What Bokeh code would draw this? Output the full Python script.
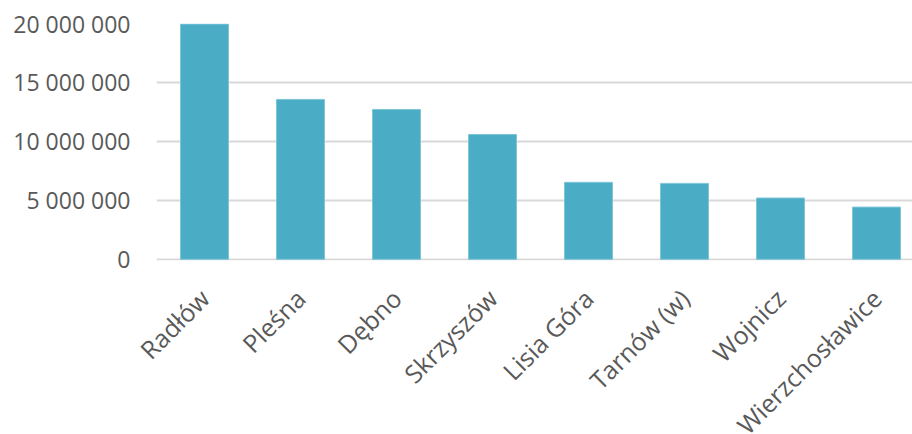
import math
from bokeh.plotting import figure
from bokeh.models import Range1d, FixedTicker, CustomJSTickFormatter
from bokeh.embed import file_html
from bokeh.resources import INLINE

categories = ["Radłów", "Pleśna", "Dębno", "Skrzyszów", "Lisia Góra", "Tarnów (w)", "Wojnicz", "Wierzchosławice"]
values = [19950000, 13560000, 12710000, 10590000, 6530000, 6440000, 5200000, 4430000]
y_ticks = [0, 5000000, 10000000, 15000000, 20000000]

xs = list(range(len(categories)))

p = figure(frame_width=756, frame_height=237, output_backend="svg", toolbar_location=None,
           x_range=Range1d(-0.5, len(categories) - 0.625), y_range=Range1d(-100000, 20000000),
           min_border_left=156, min_border_right=0, min_border_top=23, min_border_bottom=0)
p.outline_line_color = None
p.vbar(x=xs, top=values, width=0.5, fill_color="#4BACC6", line_color="#7FC6D8", line_width=1)

p.yaxis.ticker = FixedTicker(ticks=y_ticks)
p.yaxis.formatter = CustomJSTickFormatter(code="return tick.toFixed(0).replace(/\\B(?=(\\d{3})+(?!\\d))/g, ' ');")
p.xaxis.ticker = FixedTicker(ticks=xs)
p.xaxis.major_label_overrides = {i: c for i, c in enumerate(categories)}
p.xaxis.major_label_orientation = math.pi / 4

for ax in (p.xaxis[0], p.yaxis[0]):
    ax.axis_line_color = None
    ax.major_tick_line_color = None
    ax.minor_tick_line_color = None
    ax.major_tick_out = 0
    ax.major_tick_in = 0
    ax.major_label_text_font = "Open Sans"
    ax.major_label_text_color = "#595959"
p.yaxis.major_label_text_font_size = "23px"
p.xaxis.major_label_text_font_size = "25px"
p.yaxis.major_label_standoff = 26
p.xaxis.major_label_standoff = 33

p.xgrid.grid_line_color = None
p.ygrid.grid_line_color = "#D9D9D9"
p.ygrid.grid_line_width = 2
p.ygrid.level = "underlay"

open("out.html", "w").write(file_html(p, INLINE))
